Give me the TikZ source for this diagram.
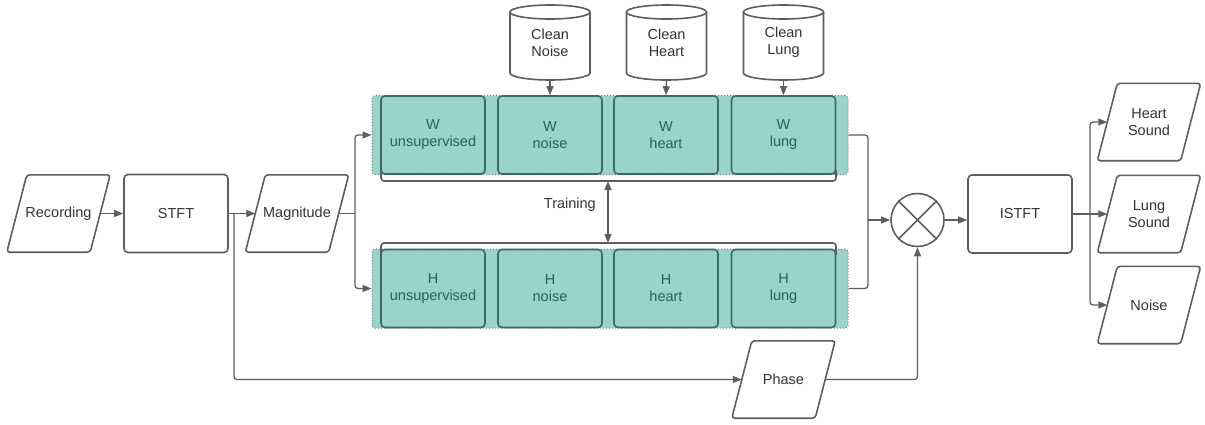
\documentclass[tikz,border=0pt]{standalone}
\usepackage{fontspec}
\setmainfont{Liberation Sans}
\usetikzlibrary{arrows.meta,shapes.geometric,calc}
\definecolor{lg}{HTML}{5E5E5E}
\definecolor{tx}{HTML}{333333}
\definecolor{tf}{HTML}{9AD3CA}
\definecolor{tb}{HTML}{3D6B64}
\definecolor{tt}{HTML}{2F5D57}
\newcommand\cylshape[1]{%
  \draw[lg,line width=1.6pt,fill=white] ({#1-40},12) -- ({#1-40},73)
    arc[start angle=180,end angle=0,x radius=40,y radius=7] -- ({#1+40},12);
  \draw[lg,line width=1.6pt,fill=white] (#1,12) ellipse[x radius=40,y radius=7];
}
\newcommand\paraframe[1]{%
  \draw[lg,line width=1.6pt,rounded corners=3pt]
    ($(#1.south west)+(-10,0)$) -- ($(#1.north west)+(10,0)$) --
    ($(#1.north east)+(10,0)$) -- ($(#1.south east)+(-10,0)$) -- cycle;
}
\begin{document}
\begin{tikzpicture}[x=1pt,y=-1pt,font=\fontsize{14.5}{17}\selectfont,
  proc/.style={draw=lg,line width=1.6pt,rounded corners=4pt,minimum width=104pt,minimum height=78pt,text=tx,align=center,inner sep=0pt,fill=white},
  io/.style={rectangle,minimum width=83pt,minimum height=77pt,text=tx,align=center,inner sep=0pt},
  tbox/.style={draw=tb,fill=tf,line width=1.6pt,rounded corners=4pt,minimum width=104pt,minimum height=78pt,text=tt,align=center,inner sep=0pt},
  grp/.style={draw=lg!80,dotted,fill=tf,line width=1pt,rounded corners=3pt,minimum width=476pt,minimum height=79pt,inner sep=0pt},
  conn/.style={draw=lg,line width=1.3pt,rounded corners=3pt},
  arr/.style={conn,-{Triangle[length=9pt,width=7pt]}},
  cyltext/.style={minimum width=80pt,minimum height=75pt,text=tx,align=center,inner sep=0pt},
]
\useasboundingbox (0,0) rectangle (1205,424);

% left chain
\node[io] (rec) at (58.5,213.5) {Recording};
\paraframe{rec}
\node[proc] (stft) at (176,213.5) {STFT};
\node[io] (mag) at (297,213.5) {Magnitude};
\paraframe{mag}

% groups
\node[grp] (wg) at (610,135) {};
\node[grp] (hg) at (610,288.5) {};

% brackets
\draw[conn,line width=1.6pt] (381,170) -- (381,181) -- (836,181) -- (836,170);
\draw[conn,line width=1.6pt] (381,255) -- (381,243) -- (836,243) -- (836,255);

% W row
\node[tbox] (wu) at (433,135) {W\\unsupervised};
\node[tbox] (wn) at (550,135) {W\\noise};
\node[tbox] (wh) at (666,135) {W\\heart};
\node[tbox] (wl) at (783.5,135) {W\\lung};
% H row
\node[tbox] (hu) at (433,288.5) {H\\unsupervised};
\node[tbox] (hn) at (550,288.5) {H\\noise};
\node[tbox] (hh) at (666,288.5) {H\\heart};
\node[tbox] (hl) at (783.5,288.5) {H\\lung};

% cylinders
\cylshape{550}
\cylshape{666.5}
\cylshape{783.5}
\node[cyltext] (cn) at (550,42.5) {Clean\\Noise};
\node[cyltext] (ch) at (666.5,42.5) {Clean\\Heart};
\node[cyltext] (cl) at (783.5,42.5) {Clean\\Lung};
\draw[arr] (cn.south) -- (wn.north);
\draw[arr] (ch.south) -- (wh.north);
\draw[arr] (cl.south) -- (wl.north);

% training
\coordinate (tb1) at (608,181);
\coordinate (tb2) at (608,243);
\draw[conn,line width=1.6pt,{Triangle[length=9pt,width=7pt]}-{Triangle[length=9pt,width=7pt]}] (tb1) -- (tb2);
\node[text=tx,anchor=east,inner sep=0pt] (train) at (596,205) {Training};

% multiply, istft, phase
\node[circle,draw=lg,line width=1.6pt,minimum size=53pt,inner sep=0pt] (mult) at (917.5,220) {};
\draw[lg,line width=1.6pt] (mult.north west) -- (mult.south east);
\draw[lg,line width=1.6pt] (mult.north east) -- (mult.south west);
\node[proc] (istft) at (1020,214) {ISTFT};
\node[io] (phase) at (783.5,379.5) {Phase};
\paraframe{phase}

% outputs
\node[io] (heart) at (1149,122) {Heart\\Sound};
\paraframe{heart}
\node[io] (lung) at (1149,214) {Lung\\Sound};
\paraframe{lung}
\node[io] (noise) at (1149,305) {Noise};
\paraframe{noise}

% connectors
\draw[arr] (rec) -- (stft);
\draw[arr] (stft) -- (mag);
\coordinate (s1) at (234,213.5);
\draw[arr] (s1) |- (phase.west);
\coordinate (m1) at (355,213.5);
\draw[conn] (mag.east) -- (m1);
\draw[arr] (m1) |- (wg.west);
\draw[arr] (m1) |- (hg.west);
\coordinate (j) at (868,220);
\draw[conn] (wg.east) -| (j);
\draw[conn] (hg.east) -| (j);
\draw[arr] (j) -- (mult.west);
\draw[arr] (phase.east) -| (mult.south);
\draw[arr] (mult.east) -- (mult.east -| istft.west);
\coordinate (o1) at (1090,214);
\draw[conn] (istft.east) -- (o1);
\draw[arr] (o1) |- (heart.west);
\draw[arr] (o1) -- (lung.west);
\draw[arr] (o1) |- (noise.west);
\end{tikzpicture}
\end{document}
